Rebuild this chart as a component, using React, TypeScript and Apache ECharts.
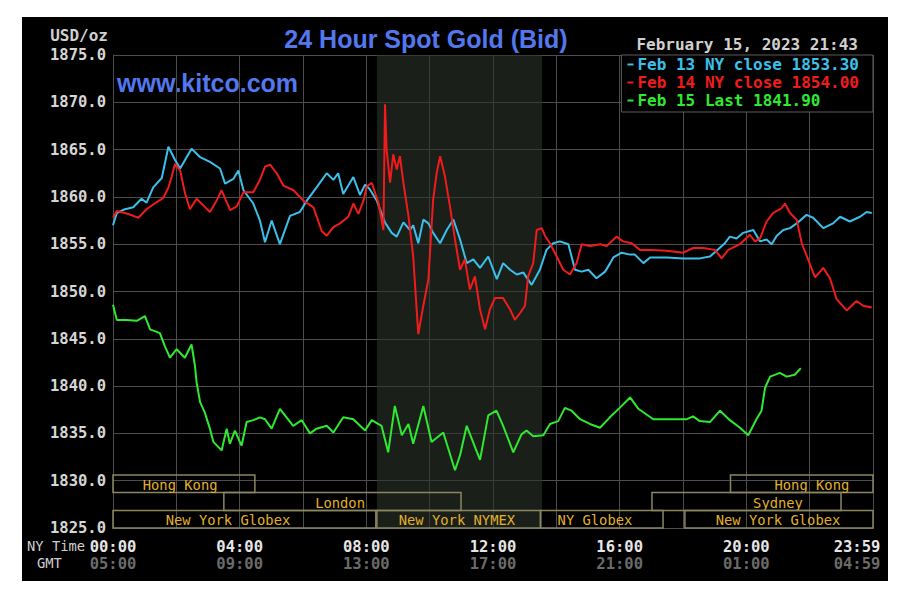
import React, { useEffect, useRef } from "react";
import * as echarts from "echarts";

// ---- data (hours since 00:00 NY time, USD/oz) ----
const feb13Label = "Feb 13 NY close 1853.30";
const feb14Label = "Feb 14 NY close 1854.00";
const feb15Label = "Feb 15 Last 1841.90";

const feb13: [number, number][] = [
  [0, 1857.0], [0.12, 1858.3], [0.38, 1858.7], [0.64, 1858.9], [0.9, 1859.8], [1.06, 1859.4],
  [1.27, 1861.0], [1.54, 1862.0], [1.75, 1865.3], [1.96, 1863.9], [2.12, 1863.0], [2.48, 1865.1],
  [2.75, 1864.2], [3.06, 1863.7], [3.38, 1863.0], [3.54, 1861.4], [3.8, 1861.9], [3.96, 1862.8],
  [4.12, 1860.7], [4.43, 1859.3], [4.64, 1857.5], [4.8, 1855.2], [5.01, 1857.5], [5.27, 1855.0],
  [5.59, 1858.0], [5.9, 1858.4], [6.12, 1859.6], [6.43, 1861.0], [6.75, 1862.5], [6.96, 1861.8],
  [7.11, 1862.5], [7.27, 1860.3], [7.59, 1862.1], [7.8, 1860.2], [7.96, 1861.3], [8.11, 1860.8],
  [8.33, 1859.6], [8.43, 1858.7], [8.59, 1857.3], [8.8, 1856.2], [8.96, 1855.8], [9.17, 1857.3],
  [9.38, 1856.5], [9.48, 1857.0], [9.64, 1855.1], [9.8, 1857.6], [9.96, 1857.2], [10.11, 1856.2],
  [10.33, 1855.1], [10.54, 1856.5], [10.75, 1857.6], [10.96, 1855.5], [11.17, 1853.0], [11.38, 1853.4],
  [11.59, 1852.5], [11.85, 1853.7], [12.12, 1851.3], [12.32, 1853.0], [12.54, 1852.3], [12.75, 1851.8],
  [12.96, 1852.0], [13.22, 1850.7], [13.48, 1852.3], [13.69, 1854.4], [13.9, 1855.1], [14.11, 1855.3],
  [14.38, 1855.0], [14.59, 1852.3], [14.8, 1852.1], [15.01, 1852.3], [15.27, 1851.4], [15.54, 1852.1],
  [15.7, 1853.0], [15.8, 1853.6], [16.06, 1854.1], [16.33, 1853.9], [16.48, 1853.9], [16.75, 1853.0],
  [16.96, 1853.6], [17.48, 1853.6], [18.01, 1853.5], [18.53, 1853.5], [18.85, 1853.7], [19.06, 1854.3],
  [19.32, 1855.1], [19.48, 1855.8], [19.69, 1855.6], [19.9, 1856.2], [20.22, 1856.5], [20.43, 1855.3],
  [20.64, 1855.5], [20.8, 1855.0], [20.96, 1855.9], [21.17, 1856.5], [21.38, 1856.7], [21.59, 1857.2],
  [21.9, 1858.1], [22.11, 1857.8], [22.43, 1856.7], [22.74, 1857.2], [22.96, 1857.9], [23.27, 1857.4],
  [23.59, 1857.9], [23.8, 1858.4], [23.96, 1858.3],
];

const feb14: [number, number][] = [
  [0, 1857.8], [0.12, 1858.5], [0.38, 1858.3], [0.64, 1858.0], [0.8, 1857.8], [1.06, 1858.7],
  [1.27, 1859.2], [1.59, 1859.9], [1.75, 1861.0], [1.85, 1862.1], [1.96, 1863.5], [2.12, 1862.8],
  [2.28, 1860.3], [2.43, 1858.7], [2.64, 1859.8], [2.85, 1859.1], [3.06, 1858.4], [3.27, 1859.6],
  [3.43, 1860.7], [3.7, 1858.6], [3.91, 1859.0], [4.12, 1860.5], [4.43, 1860.5], [4.64, 1861.8],
  [4.8, 1863.2], [4.96, 1863.4], [5.17, 1862.5], [5.38, 1861.2], [5.7, 1860.7], [6.01, 1859.6],
  [6.33, 1858.9], [6.59, 1856.4], [6.75, 1855.9], [6.96, 1856.8], [7.17, 1857.2], [7.43, 1857.9],
  [7.59, 1859.3], [7.75, 1858.2], [7.91, 1859.6], [8.01, 1861.1], [8.17, 1861.5], [8.38, 1859.4],
  [8.54, 1856.5], [8.59, 1869.8], [8.64, 1865.0], [8.75, 1861.5], [8.85, 1864.5], [8.96, 1862.9],
  [9.06, 1864.3], [9.17, 1861.5], [9.33, 1858.0], [9.48, 1853.7], [9.64, 1845.5], [9.8, 1848.5],
  [9.96, 1851.3], [10.11, 1859.7], [10.22, 1862.5], [10.33, 1864.3], [10.48, 1862.2], [10.64, 1859.0],
  [10.8, 1855.5], [10.96, 1852.3], [11.11, 1853.4], [11.27, 1850.2], [11.43, 1851.6], [11.59, 1848.1],
  [11.75, 1846.0], [11.9, 1848.1], [12.06, 1849.3], [12.32, 1849.3], [12.54, 1848.1], [12.69, 1847.0],
  [12.85, 1847.7], [13.01, 1848.5], [13.11, 1851.6], [13.27, 1853.0], [13.38, 1856.5], [13.54, 1856.7],
  [13.64, 1855.9], [13.8, 1855.1], [14.01, 1853.7], [14.22, 1852.3], [14.43, 1851.8], [14.64, 1853.0],
  [14.8, 1855.0], [15.06, 1854.8], [15.38, 1855.0], [15.59, 1854.8], [15.9, 1855.8], [16.11, 1855.3],
  [16.38, 1855.1], [16.64, 1854.4], [16.96, 1854.4], [17.48, 1854.3], [18.01, 1854.1], [18.32, 1854.6],
  [18.64, 1854.6], [19.01, 1854.4], [19.22, 1853.5], [19.43, 1854.4], [19.8, 1855.0], [20.11, 1856.0],
  [20.27, 1855.3], [20.43, 1855.6], [20.64, 1857.4], [20.85, 1858.3], [21.11, 1858.8], [21.22, 1859.3],
  [21.38, 1858.3], [21.59, 1857.6], [21.75, 1855.1], [21.95, 1853.4], [22.17, 1851.5], [22.43, 1852.5],
  [22.64, 1851.4], [22.85, 1849.2], [23.17, 1848.0], [23.48, 1849.0], [23.69, 1848.5], [23.96, 1848.3],
];

const feb15: [number, number][] = [
  [0, 1848.6], [0.12, 1847.0], [0.43, 1847.0], [0.75, 1846.9], [1.01, 1847.4], [1.17, 1846.0],
  [1.48, 1845.6], [1.64, 1844.2], [1.8, 1843.0], [2.01, 1843.9], [2.27, 1843.0], [2.48, 1844.4],
  [2.59, 1842.1], [2.64, 1840.4], [2.75, 1838.3], [2.9, 1837.2], [3.06, 1835.5], [3.17, 1834.1],
  [3.43, 1833.2], [3.59, 1835.5], [3.69, 1833.9], [3.85, 1835.3], [4.06, 1833.7], [4.22, 1836.2],
  [4.43, 1836.4], [4.64, 1836.7], [4.8, 1836.5], [5.01, 1835.5], [5.27, 1837.6], [5.48, 1836.7],
  [5.69, 1835.8], [5.96, 1836.4], [6.22, 1835.0], [6.43, 1835.5], [6.75, 1835.8], [6.96, 1835.1],
  [7.27, 1836.7], [7.59, 1836.5], [7.96, 1835.3], [8.17, 1836.4], [8.48, 1835.8], [8.69, 1833.0],
  [8.9, 1837.9], [9.12, 1834.8], [9.33, 1836.0], [9.48, 1833.9], [9.8, 1837.9], [10.06, 1834.1],
  [10.43, 1835.1], [10.8, 1831.1], [10.96, 1832.7], [11.17, 1835.8], [11.59, 1832.2], [11.85, 1836.9],
  [12.11, 1837.4], [12.32, 1835.8], [12.64, 1833.0], [12.9, 1834.9], [13.06, 1835.3], [13.27, 1834.7],
  [13.59, 1834.8], [13.8, 1836.0], [14.06, 1836.3], [14.27, 1837.7], [14.48, 1837.4], [14.75, 1836.5],
  [15.06, 1836.0], [15.38, 1835.6], [15.69, 1836.7], [16.0, 1837.7], [16.33, 1838.8], [16.59, 1837.6],
  [17.06, 1836.5], [17.59, 1836.5], [18.12, 1836.5], [18.32, 1836.8], [18.53, 1836.3], [18.85, 1836.2],
  [19.17, 1837.4], [19.48, 1836.4], [19.8, 1835.6], [20.06, 1834.8], [20.32, 1836.5], [20.48, 1837.4],
  [20.59, 1839.8], [20.75, 1841.0], [21.06, 1841.4], [21.27, 1841.0], [21.53, 1841.2], [21.72, 1841.9],
];

// x tick labels (every 4 hours): NY time and GMT
const nyTimeLabels = ["00:00", "04:00", "08:00", "12:00", "16:00", "20:00", "23:59"];
const gmtLabels = ["05:00", "09:00", "13:00", "17:00", "21:00", "01:00", "04:59"];

// NYMEX shaded period
const nymexShade = [8.333, 13.55];

// trading sessions
const sessionNames = ["Hong Kong", "Hong Kong", "London", "Sydney", "New York Globex", "New York NYMEX", "NY Globex", "New York Globex"];
const sessionStart = [0, 19.5, 3.5, 17.02, 0, 8.333, 13.5, 18.06];
const sessionEnd = [4.48, 24, 10.99, 22.99, 8.3, 13.5, 17.37, 24];
const sessionRow = [0, 0, 1, 1, 2, 2, 2, 2];
const sessionLabelAt = [2.12, 22.07, 7.17, 21.0, 3.63, 10.86, 15.22, 21.0];
const rowTop = [1830.6, 1828.75, 1826.85];
const rowBottom = [1828.75, 1826.85, 1825.0];

const MONO = "'DejaVu Sans Mono', 'Liberation Mono', monospace";
const SANS = "'Liberation Sans', Arial, sans-serif";
const GRID = "#4d4d4d";

export default function App() {
  const ref = useRef<HTMLDivElement>(null);

  useEffect(() => {
    const chart = echarts.init(ref.current!, null, { renderer: "svg" });

    const sessionData = sessionNames.map((_, i) => [
      sessionStart[i],
      sessionEnd[i],
      rowTop[sessionRow[i]],
      rowBottom[sessionRow[i]],
      sessionLabelAt[i],
    ]);

    const labelRich = {
      a: { color: "#e6e6e6", fontFamily: MONO, fontWeight: "bold", fontSize: 15.5, lineHeight: 17 },
      b: { color: "#6b6b6b", fontFamily: MONO, fontWeight: "bold", fontSize: 15.5, lineHeight: 17 },
      c: { color: "#e6e6e6", fontFamily: MONO, fontWeight: "bold", fontSize: 15.5, lineHeight: 17, padding: [0, 32, 0, 0] },
      d: { color: "#6b6b6b", fontFamily: MONO, fontWeight: "bold", fontSize: 15.5, lineHeight: 17, padding: [0, 32, 0, 0] },
    };

    const option: any = {
      animation: false,
      backgroundColor: "#000",
      grid: { left: 91, right: 15, top: 38, bottom: 53, containLabel: false, outerBoundsMode: "none" },
      legend: {
        orient: "vertical",
        right: 15,
        top: 38,
        align: "left",
        backgroundColor: "#000",
        borderColor: "#5c5c5c",
        borderWidth: 1,
        borderRadius: 0,
        padding: [1, 14, 3, 6],
        itemGap: 1,
        itemWidth: 6,
        itemHeight: 2,
        icon: "rect",
        selectedMode: false,
        textStyle: { fontFamily: MONO, fontWeight: "bold", fontSize: 16, lineHeight: 17, padding: [0, 0, 0, -1] },
        data: [
          { name: feb13Label, textStyle: { color: "#3cc0ea" } },
          { name: feb14Label, textStyle: { color: "#f01c1c" } },
          { name: feb15Label, textStyle: { color: "#2fe82f" } },
        ],
      },
      xAxis: {
        type: "value",
        min: 0,
        max: 24,
        interval: 2,
        axisLine: { show: true, lineStyle: { color: GRID } },
        axisTick: { show: false },
        splitLine: { show: true, lineStyle: { color: GRID, width: 1 } },
        axisLabel: {
          margin: 10,
          showMaxLabel: true,
          showMinLabel: true,
          rich: labelRich,
          formatter: (v: number) => {
            if (v >= 24) return `{c|${nyTimeLabels[6]}}\n{d|${gmtLabels[6]}}`;
            if (v % 4 !== 0) return "";
            const i = v / 4;
            return `{a|${nyTimeLabels[i]}}\n{b|${gmtLabels[i]}}`;
          },
        },
      },
      yAxis: {
        type: "value",
        min: 1825,
        max: 1875,
        interval: 5,
        axisLine: { show: true, lineStyle: { color: GRID } },
        axisTick: { show: false },
        splitLine: { show: true, lineStyle: { color: GRID, width: 1 } },
        axisLabel: {
          margin: 7,
          color: "#d6d6d6",
          fontFamily: MONO,
          fontWeight: "bold",
          fontSize: 15.5,
          formatter: (v: number) => v.toFixed(1),
        },
      },
      graphic: [
        {
          type: "text",
          x: 404,
          y: 22,
          style: { text: "24 Hour Spot Gold (Bid)", fill: "#5378ee", font: `bold 25px ${SANS}`, textAlign: "center", textVerticalAlign: "middle" },
        },
        {
          type: "text",
          x: 95,
          y: 66,
          style: { text: "www.kitco.com", fill: "#5378ee", font: `bold 25px ${SANS}`, textAlign: "left", textVerticalAlign: "middle" },
        },
        {
          type: "text",
          x: 86,
          y: 18,
          style: { text: "USD/oz", fill: "#d0d0d0", font: `bold 16px ${MONO}`, textAlign: "right", textVerticalAlign: "middle" },
        },
        {
          type: "text",
          x: 836,
          y: 27,
          style: { text: "February 15, 2023 21:43", fill: "#d0d0d0", font: `bold 16px ${MONO}`, textAlign: "right", textVerticalAlign: "middle" },
        },
        {
          type: "text",
          x: 5,
          y: 529,
          style: { text: "NY Time", fill: "#cfcfcf", font: `13.8px ${MONO}`, textAlign: "left", textVerticalAlign: "middle" },
        },
        {
          type: "text",
          x: 15,
          y: 546,
          style: { text: "GMT", fill: "#cfcfcf", font: `13.8px ${MONO}`, textAlign: "left", textVerticalAlign: "middle" },
        },
      ],
      series: [
        {
          name: feb13Label,
          type: "line",
          data: feb13,
          showSymbol: false,
          color: "#3cc0ea",
          lineStyle: { color: "#3cc0ea", width: 2 },
          z: 3,
          markArea: {
            silent: true,
            itemStyle: { color: "rgba(44,52,44,0.6)" },
            data: [[{ xAxis: nymexShade[0] }, { xAxis: nymexShade[1] }]],
          },
        },
        {
          name: feb14Label,
          type: "line",
          data: feb14,
          showSymbol: false,
          color: "#f01c1c",
          lineStyle: { color: "#f01c1c", width: 2 },
          z: 4,
        },
        {
          name: feb15Label,
          type: "line",
          data: feb15,
          showSymbol: false,
          color: "#2fe82f",
          lineStyle: { color: "#2fe82f", width: 2 },
          z: 5,
        },
        {
          type: "custom",
          silent: true,
          z: 2,
          encode: { x: [0, 1, 4], y: [2, 3] },
          data: sessionData,
          renderItem: (params: any, api: any) => {
            const p0 = api.coord([api.value(0), api.value(2)]);
            const p1 = api.coord([api.value(1), api.value(3)]);
            const pl = api.coord([api.value(4), (api.value(2) + api.value(3)) / 2]);
            return {
              type: "group",
              children: [
                {
                  type: "rect",
                  shape: { x: p0[0], y: p0[1], width: p1[0] - p0[0], height: p1[1] - p0[1] },
                  style: { fill: "none", stroke: "#8a8660", lineWidth: 1.5 },
                },
                {
                  type: "text",
                  x: pl[0],
                  y: pl[1] + 1,
                  style: {
                    text: sessionNames[params.dataIndex],
                    fill: "#e2b12c",
                    font: `13.8px ${MONO}`,
                    textAlign: "center",
                    textVerticalAlign: "middle",
                  },
                },
              ],
            };
          },
        },
      ],
    };

    chart.setOption(option);
    return () => chart.dispose();
  }, []);

  return (
    <div style={{ position: "fixed", left: 0, top: 0, width: 912, height: 601, background: "#fff" }}>
      <div ref={ref} style={{ position: "absolute", left: 22, top: 17, width: 866, height: 564, background: "#000" }} />
    </div>
  );
}
